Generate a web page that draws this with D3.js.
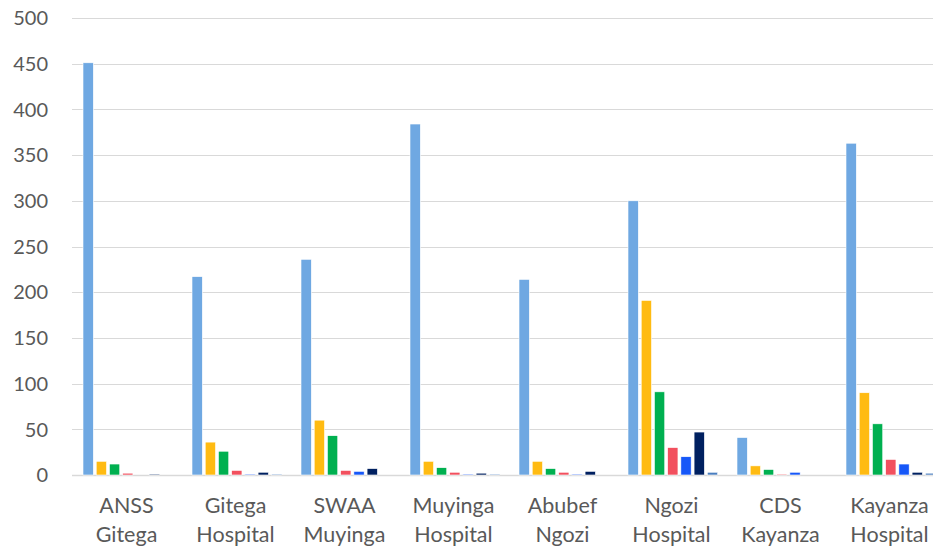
<!DOCTYPE html>
<html>
<head>
<meta charset="utf-8">
<script src="https://cdn.jsdelivr.net/npm/d3@7"></script>
<style>
body { margin: 0; background: #fff; }
text { font-family: Lato, "Open Sans", sans-serif; fill: #595959; }
</style>
</head>
<body>
<div id="chart"></div>
<script>
// categories (two lines each) and the seven series per site
var sites = ["ANSS|Gitega", "Gitega|Hospital", "SWAA|Muyinga", "Muyinga|Hospital",
             "Abubef|Ngozi", "Ngozi|Hospital", "CDS|Kayanza", "Kayanza|Hospital"]
var s1 = [451, 217, 236, 384, 214, 300, 41, 363]
var s2 = [15, 36, 60, 15, 15, 191, 10, 90]
var s3 = [12, 26, 43, 8, 7, 91, 6, 56]
var s4 = [2, 5, 5, 3, 3, 30, 1, 17]
var s5 = [0, 1, 4, 1, 1, 20, 3, 12]
var s6 = [1, 3, 7, 2, 4, 47, 0, 3]
var s7 = [0, 1, 0, 1, 0, 3, 0, 2]
var yTicks = [0, 50, 100, 150, 200, 250, 300, 350, 400, 450, 500]

var series = [s1, s2, s3, s4, s5, s6, s7]
var colors = ["#6fa8e2", "#ffbb12", "#00b050", "#f2505e", "#1657f8", "#002060", "#4a7ebf"]

var W = 933, H = 548
var plotL = 72, plotR = 944, plotT = 18, plotB = 475

var svg = d3.select("#chart").append("svg")
  .attr("width", W)
  .attr("height", H)

var x0 = d3.scaleBand().domain(d3.range(sites.length)).range([plotL, plotR])
var x1 = d3.scaleBand().domain(d3.range(series.length))
  .range([11, 11 + 89.6]).paddingInner(0.22)
var y = d3.scaleLinear().domain([0, 500]).range([plotB, plotT])

// gridlines
svg.append("g").selectAll("line")
  .data(yTicks)
  .enter().append("line")
  .attr("x1", plotL).attr("x2", W)
  .attr("y1", function(d) { return Math.round(y(d)) + 0.5 })
  .attr("y2", function(d) { return Math.round(y(d)) + 0.5 })
  .attr("stroke", "#d9d9d9")
  .attr("stroke-width", function(d) { return d == 0 ? 1.5 : 1 })

// y labels
svg.append("g").selectAll("text")
  .data(yTicks)
  .enter().append("text")
  .attr("x", 48)
  .attr("y", function(d) { return y(d) })
  .attr("dy", "0.36em")
  .attr("text-anchor", "end")
  .style("font-size", "20px")
  .text(function(d) { return d })

// bars
var groups = svg.append("g").selectAll("g")
  .data(sites)
  .enter().append("g")
  .attr("transform", function(d, i) { return "translate(" + x0(i) + ",0)" })

groups.selectAll("rect")
  .data(function(d, i) { return series.map(function(s, k) { return { k: k, v: s[i] } }) })
  .enter().append("rect")
  .attr("x", function(d) { return x1(d.k) })
  .attr("width", x1.bandwidth())
  .attr("y", function(d) { return y(d.v) })
  .attr("height", function(d) { return plotB - y(d.v) })
  .attr("fill", function(d) { return colors[d.k] })
  .attr("stroke", "#fff")
  .attr("stroke-width", 0.6)

// category labels
var labels = svg.append("g").selectAll("text")
  .data(sites)
  .enter().append("text")
  .attr("x", function(d, i) { return x0(i) + x0.bandwidth() / 2 })
  .attr("y", 513)
  .attr("text-anchor", "middle")
  .style("font-size", "21.5px")

labels.selectAll("tspan")
  .data(function(d) { return d.split("|") })
  .enter().append("tspan")
  .attr("x", function() { return d3.select(this.parentNode).attr("x") })
  .attr("dy", function(d, i) { return i == 0 ? 0 : 29 })
  .text(function(d) { return d })
</script>
</body>
</html>
